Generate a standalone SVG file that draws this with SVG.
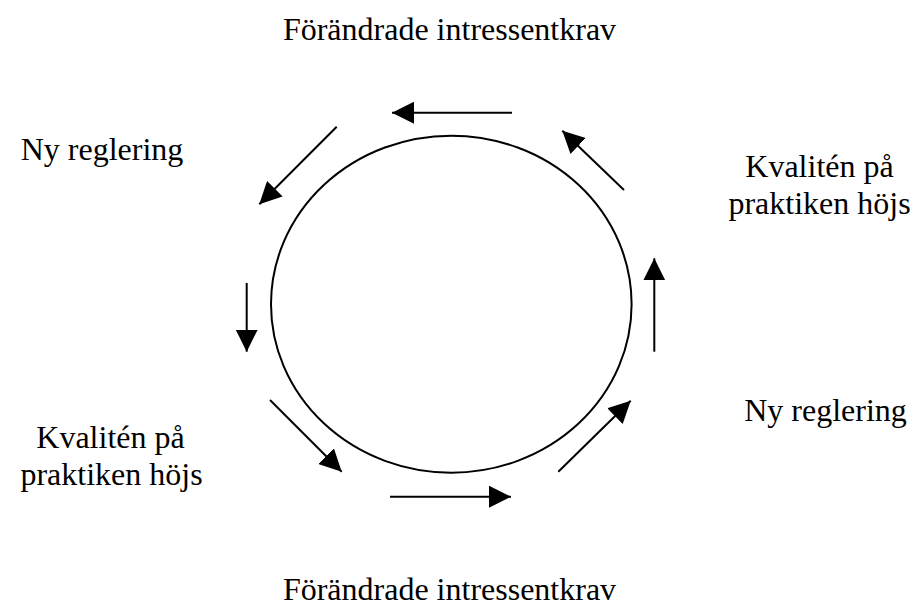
<svg xmlns="http://www.w3.org/2000/svg" width="915" height="614" viewBox="0 0 915 614">
<style>
text{font-family:"Liberation Serif","Times New Roman",serif;font-size:32px;fill:#000}
.c{stroke:#000;stroke-width:2;fill:none}
.a{stroke:#000;stroke-width:2;fill:none;marker-end:url(#ah)}
</style>
<defs>
<marker id="ah" markerUnits="userSpaceOnUse" markerWidth="22" markerHeight="22" refX="20" refY="10" orient="auto" viewBox="0 0 20 20">
<path d="M0,0 L20,10 L0,20 Z" fill="#000"/>
</marker>
</defs>
<rect width="915" height="614" fill="#fff"/>
<g id="cycle">
<ellipse class="c" cx="451.3" cy="304.2" rx="180.3" ry="168.5"/>
</g>
<g id="labels">
<g id="top"><text x="449.5" y="40" text-anchor="middle">Förändrade intressentkrav</text></g>
<g id="left-top"><text x="102" y="160" text-anchor="middle">Ny reglering</text></g>
<g id="right-top"><text x="819.5" y="177" text-anchor="middle">Kvalitén på</text><text x="819.5" y="214" text-anchor="middle">praktiken höjs</text></g>
<g id="right-bottom"><text x="825.5" y="421" text-anchor="middle">Ny reglering</text></g>
<g id="left-bottom"><text x="110.5" y="448" text-anchor="middle">Kvalitén på</text><text x="111.5" y="485" text-anchor="middle">praktiken höjs</text></g>
<g id="bottom"><text x="449.5" y="600" text-anchor="middle">Förändrade intressentkrav</text></g>
</g>
<g id="connectors">
<line class="a" x1="512" y1="112.7" x2="392" y2="112.7"/>
<line class="a" x1="336.7" y1="126.7" x2="259.3" y2="204.3"/>
<line class="a" x1="246.7" y1="283" x2="246.7" y2="351.7"/>
<line class="a" x1="270" y1="400" x2="341.7" y2="471.7"/>
<line class="a" x1="390" y1="496.7" x2="511" y2="496.7"/>
<line class="a" x1="558.3" y1="471.7" x2="630.7" y2="400.7"/>
<line class="a" x1="654.3" y1="351.7" x2="654.3" y2="258.3"/>
<line class="a" x1="624" y1="190" x2="562.3" y2="130.7"/>
</g>
</svg>
